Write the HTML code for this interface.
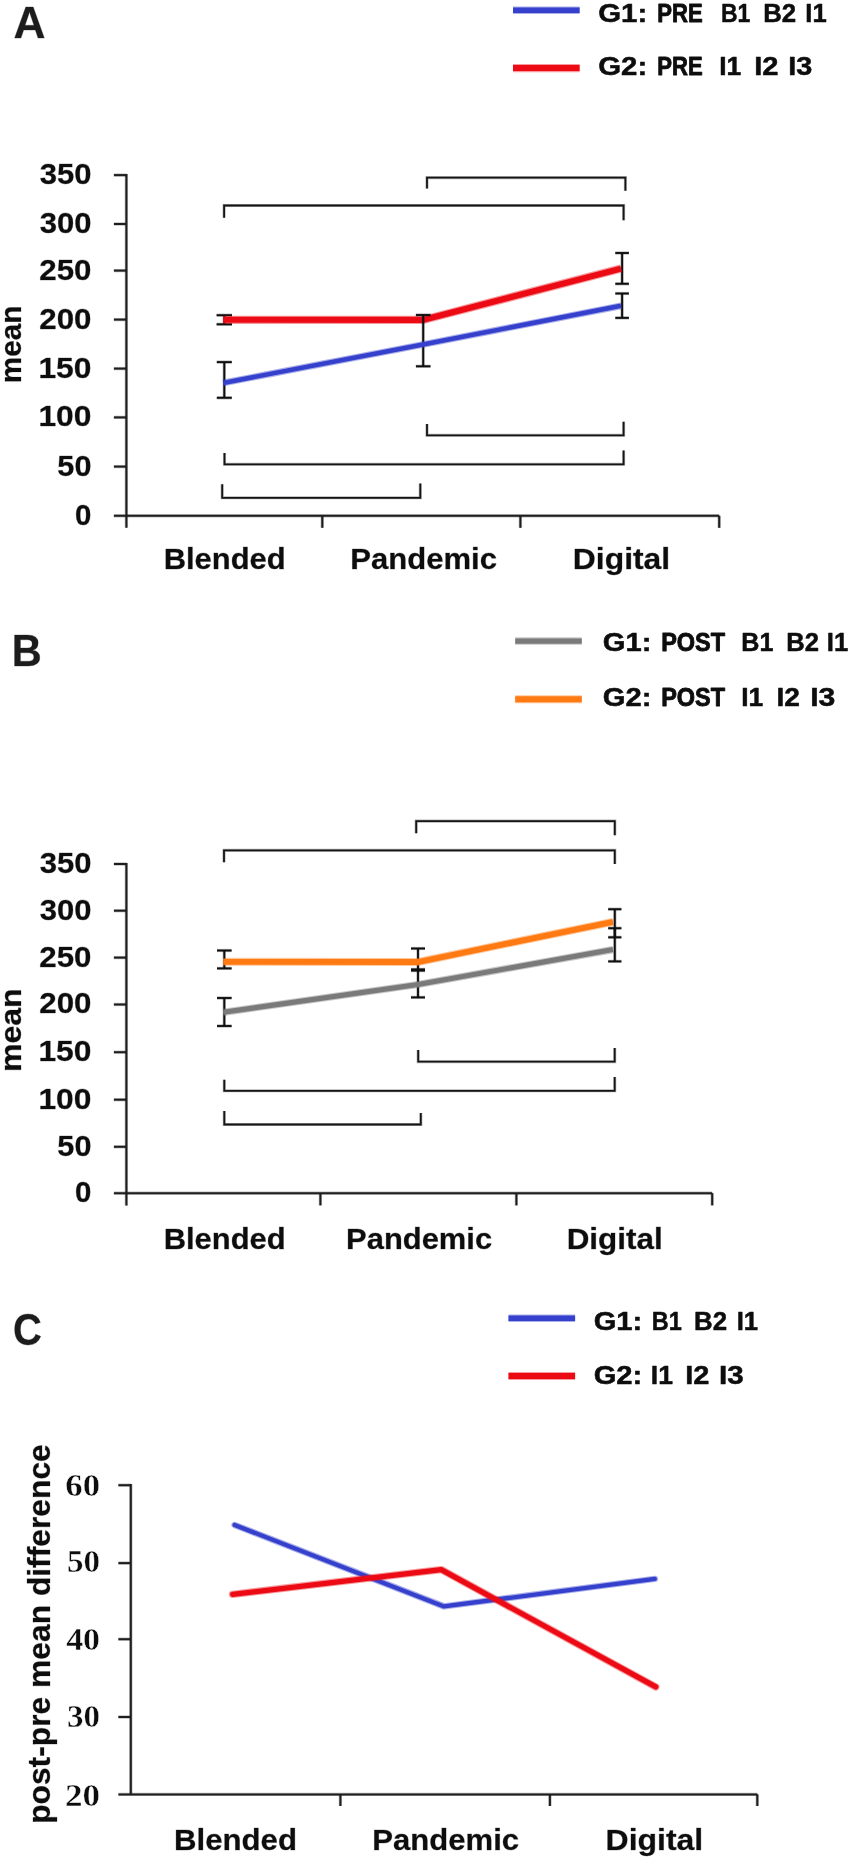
<!DOCTYPE html>
<html lang="en">
<head>
<meta charset="utf-8">
<title>Figure: group means across Blended, Pandemic and Digital terms</title>
<style>
html, body { margin: 0; padding: 0; background: #ffffff; }
body { width: 852px; height: 1861px; overflow: hidden; font-family: "Liberation Sans", sans-serif; }
svg { display: block; will-change: transform; }
text { white-space: pre; }
</style>
</head>
<body>
<svg width="852" height="1861" viewBox="0 0 852 1861">
<rect x="0" y="0" width="852" height="1861" fill="#ffffff"/>
<text x="13.59" y="38.10" font-size="43.5" font-family='"Liberation Sans", sans-serif' font-weight="bold" fill="#1c1c1c" textLength="32.01" lengthAdjust="spacingAndGlyphs" stroke="#1c1c1c" stroke-opacity="0.30" stroke-width="0.8" stroke-linejoin="round" paint-order="stroke">A</text>
<polyline points="513.0,10.2 579.6,10.2" fill="none" stroke="#3540cc" stroke-opacity="0.42" stroke-width="7.60" stroke-linejoin="miter" stroke-linecap="butt"/>
<polyline points="513.0,10.2 579.6,10.2" fill="none" stroke="#3540cc" stroke-width="5.40" stroke-linejoin="miter" stroke-linecap="butt"/>
<polyline points="513.0,68.1 579.6,68.1" fill="none" stroke="#ec0b14" stroke-opacity="0.42" stroke-width="8.20" stroke-linejoin="miter" stroke-linecap="butt"/>
<polyline points="513.0,68.1 579.6,68.1" fill="none" stroke="#ec0b14" stroke-width="6.00" stroke-linejoin="miter" stroke-linecap="butt"/>
<text x="598.28" y="22.00" font-size="26.200000000000003" font-family='"Liberation Sans", sans-serif' font-weight="bold" fill="#0d0d0d" textLength="48.95" lengthAdjust="spacingAndGlyphs" stroke="#0d0d0d" stroke-width="0.5" stroke-linejoin="round" paint-order="stroke">G1:</text>
<text x="657.26" y="22.00" font-size="25.900000000000002" font-family='"Liberation Sans", sans-serif' font-weight="bold" fill="#0d0d0d" textLength="45.34" lengthAdjust="spacingAndGlyphs" stroke="#0d0d0d" stroke-width="0.9" stroke-linejoin="round" paint-order="stroke">PRE</text>
<text x="720.90" y="22.00" font-size="26.200000000000003" font-family='"Liberation Sans", sans-serif' font-weight="bold" fill="#0d0d0d" textLength="29.40" lengthAdjust="spacingAndGlyphs" stroke="#0d0d0d" stroke-width="0.5" stroke-linejoin="round" paint-order="stroke">B1</text>
<text x="763.21" y="22.00" font-size="26.200000000000003" font-family='"Liberation Sans", sans-serif' font-weight="bold" fill="#0d0d0d" textLength="33.00" lengthAdjust="spacingAndGlyphs" stroke="#0d0d0d" stroke-width="0.5" stroke-linejoin="round" paint-order="stroke">B2</text>
<text x="805.32" y="22.00" font-size="26.200000000000003" font-family='"Liberation Sans", sans-serif' font-weight="bold" fill="#0d0d0d" textLength="21.37" lengthAdjust="spacingAndGlyphs" stroke="#0d0d0d" stroke-width="0.5" stroke-linejoin="round" paint-order="stroke">I1</text>
<text x="598.28" y="75.40" font-size="26.200000000000003" font-family='"Liberation Sans", sans-serif' font-weight="bold" fill="#0d0d0d" textLength="48.95" lengthAdjust="spacingAndGlyphs" stroke="#0d0d0d" stroke-width="0.5" stroke-linejoin="round" paint-order="stroke">G2:</text>
<text x="657.26" y="75.40" font-size="25.900000000000002" font-family='"Liberation Sans", sans-serif' font-weight="bold" fill="#0d0d0d" textLength="45.34" lengthAdjust="spacingAndGlyphs" stroke="#0d0d0d" stroke-width="0.9" stroke-linejoin="round" paint-order="stroke">PRE</text>
<text x="719.17" y="75.40" font-size="26.200000000000003" font-family='"Liberation Sans", sans-serif' font-weight="bold" fill="#0d0d0d" textLength="22.05" lengthAdjust="spacingAndGlyphs" stroke="#0d0d0d" stroke-width="0.5" stroke-linejoin="round" paint-order="stroke">I1</text>
<text x="754.29" y="75.40" font-size="26.200000000000003" font-family='"Liberation Sans", sans-serif' font-weight="bold" fill="#0d0d0d" textLength="24.27" lengthAdjust="spacingAndGlyphs" stroke="#0d0d0d" stroke-width="0.5" stroke-linejoin="round" paint-order="stroke">I2</text>
<text x="788.21" y="75.40" font-size="26.200000000000003" font-family='"Liberation Sans", sans-serif' font-weight="bold" fill="#0d0d0d" textLength="23.99" lengthAdjust="spacingAndGlyphs" stroke="#0d0d0d" stroke-width="0.5" stroke-linejoin="round" paint-order="stroke">I3</text>
<line x1="126.4" y1="174.0" x2="126.4" y2="527.8" stroke="#1e1e1e" stroke-opacity="0.32" stroke-width="3.30" stroke-linecap="butt"/>
<line x1="126.4" y1="174.0" x2="126.4" y2="527.8" stroke="#1e1e1e" stroke-width="2.0" stroke-linecap="butt"/>
<line x1="113.9" y1="515.8" x2="719.2" y2="515.8" stroke="#1e1e1e" stroke-opacity="0.32" stroke-width="3.30" stroke-linecap="butt"/>
<line x1="113.9" y1="515.8" x2="719.2" y2="515.8" stroke="#1e1e1e" stroke-width="2.0" stroke-linecap="butt"/>
<line x1="113.9" y1="175.1" x2="126.4" y2="175.1" stroke="#1e1e1e" stroke-opacity="0.32" stroke-width="3.30" stroke-linecap="butt"/>
<line x1="113.9" y1="175.1" x2="126.4" y2="175.1" stroke="#1e1e1e" stroke-width="2.0" stroke-linecap="butt"/>
<line x1="113.9" y1="224.0" x2="126.4" y2="224.0" stroke="#1e1e1e" stroke-opacity="0.32" stroke-width="3.30" stroke-linecap="butt"/>
<line x1="113.9" y1="224.0" x2="126.4" y2="224.0" stroke="#1e1e1e" stroke-width="2.0" stroke-linecap="butt"/>
<line x1="113.9" y1="270.6" x2="126.4" y2="270.6" stroke="#1e1e1e" stroke-opacity="0.32" stroke-width="3.30" stroke-linecap="butt"/>
<line x1="113.9" y1="270.6" x2="126.4" y2="270.6" stroke="#1e1e1e" stroke-width="2.0" stroke-linecap="butt"/>
<line x1="113.9" y1="319.6" x2="126.4" y2="319.6" stroke="#1e1e1e" stroke-opacity="0.32" stroke-width="3.30" stroke-linecap="butt"/>
<line x1="113.9" y1="319.6" x2="126.4" y2="319.6" stroke="#1e1e1e" stroke-width="2.0" stroke-linecap="butt"/>
<line x1="113.9" y1="368.6" x2="126.4" y2="368.6" stroke="#1e1e1e" stroke-opacity="0.32" stroke-width="3.30" stroke-linecap="butt"/>
<line x1="113.9" y1="368.6" x2="126.4" y2="368.6" stroke="#1e1e1e" stroke-width="2.0" stroke-linecap="butt"/>
<line x1="113.9" y1="417.4" x2="126.4" y2="417.4" stroke="#1e1e1e" stroke-opacity="0.32" stroke-width="3.30" stroke-linecap="butt"/>
<line x1="113.9" y1="417.4" x2="126.4" y2="417.4" stroke="#1e1e1e" stroke-width="2.0" stroke-linecap="butt"/>
<line x1="113.9" y1="466.6" x2="126.4" y2="466.6" stroke="#1e1e1e" stroke-opacity="0.32" stroke-width="3.30" stroke-linecap="butt"/>
<line x1="113.9" y1="466.6" x2="126.4" y2="466.6" stroke="#1e1e1e" stroke-width="2.0" stroke-linecap="butt"/>
<text x="39.70" y="184.00" font-size="28.6" font-family='"Liberation Sans", sans-serif' font-weight="bold" fill="#0d0d0d" textLength="51.77" lengthAdjust="spacingAndGlyphs" stroke="#0d0d0d" stroke-opacity="0.30" stroke-width="0.8" stroke-linejoin="round" paint-order="stroke">350</text>
<text x="39.70" y="232.90" font-size="28.6" font-family='"Liberation Sans", sans-serif' font-weight="bold" fill="#0d0d0d" textLength="51.77" lengthAdjust="spacingAndGlyphs" stroke="#0d0d0d" stroke-opacity="0.30" stroke-width="0.8" stroke-linejoin="round" paint-order="stroke">300</text>
<text x="39.31" y="279.50" font-size="28.6" font-family='"Liberation Sans", sans-serif' font-weight="bold" fill="#0d0d0d" textLength="52.18" lengthAdjust="spacingAndGlyphs" stroke="#0d0d0d" stroke-opacity="0.30" stroke-width="0.8" stroke-linejoin="round" paint-order="stroke">250</text>
<text x="39.31" y="328.50" font-size="28.6" font-family='"Liberation Sans", sans-serif' font-weight="bold" fill="#0d0d0d" textLength="52.18" lengthAdjust="spacingAndGlyphs" stroke="#0d0d0d" stroke-opacity="0.30" stroke-width="0.8" stroke-linejoin="round" paint-order="stroke">200</text>
<text x="38.41" y="377.50" font-size="28.6" font-family='"Liberation Sans", sans-serif' font-weight="bold" fill="#0d0d0d" textLength="53.09" lengthAdjust="spacingAndGlyphs" stroke="#0d0d0d" stroke-opacity="0.30" stroke-width="0.8" stroke-linejoin="round" paint-order="stroke">150</text>
<text x="38.41" y="426.30" font-size="28.6" font-family='"Liberation Sans", sans-serif' font-weight="bold" fill="#0d0d0d" textLength="53.09" lengthAdjust="spacingAndGlyphs" stroke="#0d0d0d" stroke-opacity="0.30" stroke-width="0.8" stroke-linejoin="round" paint-order="stroke">100</text>
<text x="57.38" y="475.50" font-size="28.6" font-family='"Liberation Sans", sans-serif' font-weight="bold" fill="#0d0d0d" textLength="34.12" lengthAdjust="spacingAndGlyphs" stroke="#0d0d0d" stroke-opacity="0.30" stroke-width="0.8" stroke-linejoin="round" paint-order="stroke">50</text>
<text x="75.02" y="524.70" font-size="28.6" font-family='"Liberation Sans", sans-serif' font-weight="bold" fill="#0d0d0d" textLength="16.39" lengthAdjust="spacingAndGlyphs" stroke="#0d0d0d" stroke-opacity="0.30" stroke-width="0.8" stroke-linejoin="round" paint-order="stroke">0</text>
<line x1="322.3" y1="515.8" x2="322.3" y2="527.8" stroke="#1e1e1e" stroke-opacity="0.32" stroke-width="3.30" stroke-linecap="butt"/>
<line x1="322.3" y1="515.8" x2="322.3" y2="527.8" stroke="#1e1e1e" stroke-width="2.0" stroke-linecap="butt"/>
<line x1="520.4" y1="515.8" x2="520.4" y2="527.8" stroke="#1e1e1e" stroke-opacity="0.32" stroke-width="3.30" stroke-linecap="butt"/>
<line x1="520.4" y1="515.8" x2="520.4" y2="527.8" stroke="#1e1e1e" stroke-width="2.0" stroke-linecap="butt"/>
<line x1="719.2" y1="515.8" x2="719.2" y2="527.8" stroke="#1e1e1e" stroke-opacity="0.32" stroke-width="3.30" stroke-linecap="butt"/>
<line x1="719.2" y1="515.8" x2="719.2" y2="527.8" stroke="#1e1e1e" stroke-width="2.0" stroke-linecap="butt"/>
<text x="20.70" y="383.13" font-size="30" font-family='"Liberation Sans", sans-serif' font-weight="bold" fill="#0d0d0d" textLength="77.40" lengthAdjust="spacingAndGlyphs" transform="rotate(-90 20.70 383.13)" stroke="#0d0d0d" stroke-opacity="0.30" stroke-width="0.8" stroke-linejoin="round" paint-order="stroke">mean</text>
<text x="163.71" y="569.40" font-size="30" font-family='"Liberation Sans", sans-serif' font-weight="bold" fill="#0d0d0d" textLength="121.89" lengthAdjust="spacingAndGlyphs" stroke="#0d0d0d" stroke-opacity="0.30" stroke-width="0.8" stroke-linejoin="round" paint-order="stroke">Blended</text>
<text x="350.20" y="569.40" font-size="30" font-family='"Liberation Sans", sans-serif' font-weight="bold" fill="#0d0d0d" textLength="146.81" lengthAdjust="spacingAndGlyphs" stroke="#0d0d0d" stroke-opacity="0.30" stroke-width="0.8" stroke-linejoin="round" paint-order="stroke">Pandemic</text>
<text x="572.85" y="569.40" font-size="30" font-family='"Liberation Sans", sans-serif' font-weight="bold" fill="#0d0d0d" textLength="97.30" lengthAdjust="spacingAndGlyphs" stroke="#0d0d0d" stroke-opacity="0.30" stroke-width="0.8" stroke-linejoin="round" paint-order="stroke">Digital</text>
<line x1="224.3" y1="315.2" x2="224.3" y2="324.3" stroke="#0f0f0f" stroke-opacity="0.32" stroke-width="3.20" stroke-linecap="butt"/>
<line x1="224.3" y1="315.2" x2="224.3" y2="324.3" stroke="#0f0f0f" stroke-width="1.9" stroke-linecap="butt"/>
<line x1="216.60000000000002" y1="315.2" x2="232.0" y2="315.2" stroke="#0f0f0f" stroke-opacity="0.32" stroke-width="3.20" stroke-linecap="butt"/>
<line x1="216.60000000000002" y1="315.2" x2="232.0" y2="315.2" stroke="#0f0f0f" stroke-width="1.9" stroke-linecap="butt"/>
<line x1="216.60000000000002" y1="324.3" x2="232.0" y2="324.3" stroke="#0f0f0f" stroke-opacity="0.32" stroke-width="3.20" stroke-linecap="butt"/>
<line x1="216.60000000000002" y1="324.3" x2="232.0" y2="324.3" stroke="#0f0f0f" stroke-width="1.9" stroke-linecap="butt"/>
<line x1="622.1" y1="253.0" x2="622.1" y2="283.8" stroke="#0f0f0f" stroke-opacity="0.32" stroke-width="3.20" stroke-linecap="butt"/>
<line x1="622.1" y1="253.0" x2="622.1" y2="283.8" stroke="#0f0f0f" stroke-width="1.9" stroke-linecap="butt"/>
<line x1="615.3000000000001" y1="253.0" x2="628.9" y2="253.0" stroke="#0f0f0f" stroke-opacity="0.32" stroke-width="3.20" stroke-linecap="butt"/>
<line x1="615.3000000000001" y1="253.0" x2="628.9" y2="253.0" stroke="#0f0f0f" stroke-width="1.9" stroke-linecap="butt"/>
<line x1="615.3000000000001" y1="283.8" x2="628.9" y2="283.8" stroke="#0f0f0f" stroke-opacity="0.32" stroke-width="3.20" stroke-linecap="butt"/>
<line x1="615.3000000000001" y1="283.8" x2="628.9" y2="283.8" stroke="#0f0f0f" stroke-width="1.9" stroke-linecap="butt"/>
<polyline points="223.2,319.8 423,319.9 621,268.6" fill="none" stroke="#ec0b14" stroke-opacity="0.42" stroke-width="8.30" stroke-linejoin="miter" stroke-linecap="butt"/>
<polyline points="223.2,319.8 423,319.9 621,268.6" fill="none" stroke="#ec0b14" stroke-width="6.10" stroke-linejoin="miter" stroke-linecap="butt"/>
<line x1="224.3" y1="362.1" x2="224.3" y2="397.8" stroke="#0f0f0f" stroke-opacity="0.32" stroke-width="3.20" stroke-linecap="butt"/>
<line x1="224.3" y1="362.1" x2="224.3" y2="397.8" stroke="#0f0f0f" stroke-width="1.9" stroke-linecap="butt"/>
<line x1="216.8" y1="362.1" x2="231.8" y2="362.1" stroke="#0f0f0f" stroke-opacity="0.32" stroke-width="3.20" stroke-linecap="butt"/>
<line x1="216.8" y1="362.1" x2="231.8" y2="362.1" stroke="#0f0f0f" stroke-width="1.9" stroke-linecap="butt"/>
<line x1="216.8" y1="397.8" x2="231.8" y2="397.8" stroke="#0f0f0f" stroke-opacity="0.32" stroke-width="3.20" stroke-linecap="butt"/>
<line x1="216.8" y1="397.8" x2="231.8" y2="397.8" stroke="#0f0f0f" stroke-width="1.9" stroke-linecap="butt"/>
<line x1="423.2" y1="315.0" x2="423.2" y2="366.3" stroke="#0f0f0f" stroke-opacity="0.32" stroke-width="3.20" stroke-linecap="butt"/>
<line x1="423.2" y1="315.0" x2="423.2" y2="366.3" stroke="#0f0f0f" stroke-width="1.9" stroke-linecap="butt"/>
<line x1="415.9" y1="315.0" x2="430.5" y2="315.0" stroke="#0f0f0f" stroke-opacity="0.32" stroke-width="3.20" stroke-linecap="butt"/>
<line x1="415.9" y1="315.0" x2="430.5" y2="315.0" stroke="#0f0f0f" stroke-width="1.9" stroke-linecap="butt"/>
<line x1="415.9" y1="366.3" x2="430.5" y2="366.3" stroke="#0f0f0f" stroke-opacity="0.32" stroke-width="3.20" stroke-linecap="butt"/>
<line x1="415.9" y1="366.3" x2="430.5" y2="366.3" stroke="#0f0f0f" stroke-width="1.9" stroke-linecap="butt"/>
<line x1="622.1" y1="293.5" x2="622.1" y2="317.9" stroke="#0f0f0f" stroke-opacity="0.32" stroke-width="3.20" stroke-linecap="butt"/>
<line x1="622.1" y1="293.5" x2="622.1" y2="317.9" stroke="#0f0f0f" stroke-width="1.9" stroke-linecap="butt"/>
<line x1="615.3000000000001" y1="293.5" x2="628.9" y2="293.5" stroke="#0f0f0f" stroke-opacity="0.32" stroke-width="3.20" stroke-linecap="butt"/>
<line x1="615.3000000000001" y1="293.5" x2="628.9" y2="293.5" stroke="#0f0f0f" stroke-width="1.9" stroke-linecap="butt"/>
<line x1="615.3000000000001" y1="317.9" x2="628.9" y2="317.9" stroke="#0f0f0f" stroke-opacity="0.32" stroke-width="3.20" stroke-linecap="butt"/>
<line x1="615.3000000000001" y1="317.9" x2="628.9" y2="317.9" stroke="#0f0f0f" stroke-width="1.9" stroke-linecap="butt"/>
<polyline points="223.2,382.9 423,344.5 621,305.8" fill="none" stroke="#3540cc" stroke-opacity="0.42" stroke-width="6.80" stroke-linejoin="miter" stroke-linecap="butt"/>
<polyline points="223.2,382.9 423,344.5 621,305.8" fill="none" stroke="#3540cc" stroke-width="4.60" stroke-linejoin="miter" stroke-linecap="butt"/>
<polyline points="427,188.5 427,177.6 625.4,177.6 625.4,190.8" fill="none" stroke="#151515" stroke-opacity="0.32" stroke-width="3.10" stroke-linejoin="miter" stroke-linecap="butt"/>
<polyline points="427,188.5 427,177.6 625.4,177.6 625.4,190.8" fill="none" stroke="#151515" stroke-width="1.8" stroke-linejoin="miter" stroke-linecap="butt"/>
<polyline points="224.1,217.8 224.1,205.5 623.6,205.5 623.6,220.2" fill="none" stroke="#151515" stroke-opacity="0.32" stroke-width="3.10" stroke-linejoin="miter" stroke-linecap="butt"/>
<polyline points="224.1,217.8 224.1,205.5 623.6,205.5 623.6,220.2" fill="none" stroke="#151515" stroke-width="1.8" stroke-linejoin="miter" stroke-linecap="butt"/>
<polyline points="427,424 427,435.3 623.6,435.3 623.6,421.7" fill="none" stroke="#151515" stroke-opacity="0.32" stroke-width="3.10" stroke-linejoin="miter" stroke-linecap="butt"/>
<polyline points="427,424 427,435.3 623.6,435.3 623.6,421.7" fill="none" stroke="#151515" stroke-width="1.8" stroke-linejoin="miter" stroke-linecap="butt"/>
<polyline points="224.5,453 224.5,464.3 623.6,464.3 623.6,450.4" fill="none" stroke="#151515" stroke-opacity="0.32" stroke-width="3.10" stroke-linejoin="miter" stroke-linecap="butt"/>
<polyline points="224.5,453 224.5,464.3 623.6,464.3 623.6,450.4" fill="none" stroke="#151515" stroke-width="1.8" stroke-linejoin="miter" stroke-linecap="butt"/>
<polyline points="222.2,484.2 222.2,497.8 420.3,497.8 420.3,483.6" fill="none" stroke="#151515" stroke-opacity="0.32" stroke-width="3.10" stroke-linejoin="miter" stroke-linecap="butt"/>
<polyline points="222.2,484.2 222.2,497.8 420.3,497.8 420.3,483.6" fill="none" stroke="#151515" stroke-width="1.8" stroke-linejoin="miter" stroke-linecap="butt"/>
<text x="11.80" y="665.80" font-size="43.5" font-family='"Liberation Sans", sans-serif' font-weight="bold" fill="#1c1c1c" textLength="29.95" lengthAdjust="spacingAndGlyphs" stroke="#1c1c1c" stroke-opacity="0.30" stroke-width="0.8" stroke-linejoin="round" paint-order="stroke">B</text>
<polyline points="515.2,641.1 581.8,641.1" fill="none" stroke="#7a7a7a" stroke-opacity="0.42" stroke-width="7.50" stroke-linejoin="miter" stroke-linecap="butt"/>
<polyline points="515.2,641.1 581.8,641.1" fill="none" stroke="#7a7a7a" stroke-width="5.30" stroke-linejoin="miter" stroke-linecap="butt"/>
<polyline points="515.2,699.2 581.8,699.2" fill="none" stroke="#ff7a12" stroke-opacity="0.42" stroke-width="8.10" stroke-linejoin="miter" stroke-linecap="butt"/>
<polyline points="515.2,699.2 581.8,699.2" fill="none" stroke="#ff7a12" stroke-width="5.90" stroke-linejoin="miter" stroke-linecap="butt"/>
<text x="602.88" y="650.90" font-size="26.200000000000003" font-family='"Liberation Sans", sans-serif' font-weight="bold" fill="#0d0d0d" textLength="48.62" lengthAdjust="spacingAndGlyphs" stroke="#0d0d0d" stroke-width="0.5" stroke-linejoin="round" paint-order="stroke">G1:</text>
<text x="661.17" y="650.90" font-size="25.900000000000002" font-family='"Liberation Sans", sans-serif' font-weight="bold" fill="#0d0d0d" textLength="63.92" lengthAdjust="spacingAndGlyphs" stroke="#0d0d0d" stroke-width="0.9" stroke-linejoin="round" paint-order="stroke">POST</text>
<text x="741.35" y="650.90" font-size="26.200000000000003" font-family='"Liberation Sans", sans-serif' font-weight="bold" fill="#0d0d0d" textLength="32.11" lengthAdjust="spacingAndGlyphs" stroke="#0d0d0d" stroke-width="0.5" stroke-linejoin="round" paint-order="stroke">B1</text>
<text x="786.22" y="650.90" font-size="26.200000000000003" font-family='"Liberation Sans", sans-serif' font-weight="bold" fill="#0d0d0d" textLength="32.78" lengthAdjust="spacingAndGlyphs" stroke="#0d0d0d" stroke-width="0.5" stroke-linejoin="round" paint-order="stroke">B2</text>
<text x="826.82" y="650.90" font-size="26.200000000000003" font-family='"Liberation Sans", sans-serif' font-weight="bold" fill="#0d0d0d" textLength="21.37" lengthAdjust="spacingAndGlyphs" stroke="#0d0d0d" stroke-width="0.5" stroke-linejoin="round" paint-order="stroke">I1</text>
<text x="602.88" y="706.20" font-size="26.200000000000003" font-family='"Liberation Sans", sans-serif' font-weight="bold" fill="#0d0d0d" textLength="48.62" lengthAdjust="spacingAndGlyphs" stroke="#0d0d0d" stroke-width="0.5" stroke-linejoin="round" paint-order="stroke">G2:</text>
<text x="661.17" y="706.20" font-size="25.900000000000002" font-family='"Liberation Sans", sans-serif' font-weight="bold" fill="#0d0d0d" textLength="63.92" lengthAdjust="spacingAndGlyphs" stroke="#0d0d0d" stroke-width="0.9" stroke-linejoin="round" paint-order="stroke">POST</text>
<text x="741.27" y="706.20" font-size="26.200000000000003" font-family='"Liberation Sans", sans-serif' font-weight="bold" fill="#0d0d0d" textLength="22.05" lengthAdjust="spacingAndGlyphs" stroke="#0d0d0d" stroke-width="0.5" stroke-linejoin="round" paint-order="stroke">I1</text>
<text x="776.55" y="706.20" font-size="26.200000000000003" font-family='"Liberation Sans", sans-serif' font-weight="bold" fill="#0d0d0d" textLength="23.47" lengthAdjust="spacingAndGlyphs" stroke="#0d0d0d" stroke-width="0.5" stroke-linejoin="round" paint-order="stroke">I2</text>
<text x="810.22" y="706.20" font-size="26.200000000000003" font-family='"Liberation Sans", sans-serif' font-weight="bold" fill="#0d0d0d" textLength="25.13" lengthAdjust="spacingAndGlyphs" stroke="#0d0d0d" stroke-width="0.5" stroke-linejoin="round" paint-order="stroke">I3</text>
<line x1="126.4" y1="862.9" x2="126.4" y2="1205.4" stroke="#1e1e1e" stroke-opacity="0.32" stroke-width="3.30" stroke-linecap="butt"/>
<line x1="126.4" y1="862.9" x2="126.4" y2="1205.4" stroke="#1e1e1e" stroke-width="2.0" stroke-linecap="butt"/>
<line x1="113.9" y1="1193.2" x2="712.2" y2="1193.2" stroke="#1e1e1e" stroke-opacity="0.32" stroke-width="3.30" stroke-linecap="butt"/>
<line x1="113.9" y1="1193.2" x2="712.2" y2="1193.2" stroke="#1e1e1e" stroke-width="2.0" stroke-linecap="butt"/>
<line x1="113.9" y1="864.0" x2="126.4" y2="864.0" stroke="#1e1e1e" stroke-opacity="0.32" stroke-width="3.30" stroke-linecap="butt"/>
<line x1="113.9" y1="864.0" x2="126.4" y2="864.0" stroke="#1e1e1e" stroke-width="2.0" stroke-linecap="butt"/>
<line x1="113.9" y1="910.7" x2="126.4" y2="910.7" stroke="#1e1e1e" stroke-opacity="0.32" stroke-width="3.30" stroke-linecap="butt"/>
<line x1="113.9" y1="910.7" x2="126.4" y2="910.7" stroke="#1e1e1e" stroke-width="2.0" stroke-linecap="butt"/>
<line x1="113.9" y1="957.6" x2="126.4" y2="957.6" stroke="#1e1e1e" stroke-opacity="0.32" stroke-width="3.30" stroke-linecap="butt"/>
<line x1="113.9" y1="957.6" x2="126.4" y2="957.6" stroke="#1e1e1e" stroke-width="2.0" stroke-linecap="butt"/>
<line x1="113.9" y1="1004.5" x2="126.4" y2="1004.5" stroke="#1e1e1e" stroke-opacity="0.32" stroke-width="3.30" stroke-linecap="butt"/>
<line x1="113.9" y1="1004.5" x2="126.4" y2="1004.5" stroke="#1e1e1e" stroke-width="2.0" stroke-linecap="butt"/>
<line x1="113.9" y1="1052.2" x2="126.4" y2="1052.2" stroke="#1e1e1e" stroke-opacity="0.32" stroke-width="3.30" stroke-linecap="butt"/>
<line x1="113.9" y1="1052.2" x2="126.4" y2="1052.2" stroke="#1e1e1e" stroke-width="2.0" stroke-linecap="butt"/>
<line x1="113.9" y1="1099.7" x2="126.4" y2="1099.7" stroke="#1e1e1e" stroke-opacity="0.32" stroke-width="3.30" stroke-linecap="butt"/>
<line x1="113.9" y1="1099.7" x2="126.4" y2="1099.7" stroke="#1e1e1e" stroke-width="2.0" stroke-linecap="butt"/>
<line x1="113.9" y1="1146.8" x2="126.4" y2="1146.8" stroke="#1e1e1e" stroke-opacity="0.32" stroke-width="3.30" stroke-linecap="butt"/>
<line x1="113.9" y1="1146.8" x2="126.4" y2="1146.8" stroke="#1e1e1e" stroke-width="2.0" stroke-linecap="butt"/>
<text x="39.70" y="872.90" font-size="28.6" font-family='"Liberation Sans", sans-serif' font-weight="bold" fill="#0d0d0d" textLength="51.77" lengthAdjust="spacingAndGlyphs" stroke="#0d0d0d" stroke-opacity="0.30" stroke-width="0.8" stroke-linejoin="round" paint-order="stroke">350</text>
<text x="39.70" y="919.60" font-size="28.6" font-family='"Liberation Sans", sans-serif' font-weight="bold" fill="#0d0d0d" textLength="51.77" lengthAdjust="spacingAndGlyphs" stroke="#0d0d0d" stroke-opacity="0.30" stroke-width="0.8" stroke-linejoin="round" paint-order="stroke">300</text>
<text x="39.31" y="966.50" font-size="28.6" font-family='"Liberation Sans", sans-serif' font-weight="bold" fill="#0d0d0d" textLength="52.18" lengthAdjust="spacingAndGlyphs" stroke="#0d0d0d" stroke-opacity="0.30" stroke-width="0.8" stroke-linejoin="round" paint-order="stroke">250</text>
<text x="39.31" y="1013.40" font-size="28.6" font-family='"Liberation Sans", sans-serif' font-weight="bold" fill="#0d0d0d" textLength="52.18" lengthAdjust="spacingAndGlyphs" stroke="#0d0d0d" stroke-opacity="0.30" stroke-width="0.8" stroke-linejoin="round" paint-order="stroke">200</text>
<text x="38.41" y="1061.10" font-size="28.6" font-family='"Liberation Sans", sans-serif' font-weight="bold" fill="#0d0d0d" textLength="53.09" lengthAdjust="spacingAndGlyphs" stroke="#0d0d0d" stroke-opacity="0.30" stroke-width="0.8" stroke-linejoin="round" paint-order="stroke">150</text>
<text x="38.41" y="1108.60" font-size="28.6" font-family='"Liberation Sans", sans-serif' font-weight="bold" fill="#0d0d0d" textLength="53.09" lengthAdjust="spacingAndGlyphs" stroke="#0d0d0d" stroke-opacity="0.30" stroke-width="0.8" stroke-linejoin="round" paint-order="stroke">100</text>
<text x="57.38" y="1155.70" font-size="28.6" font-family='"Liberation Sans", sans-serif' font-weight="bold" fill="#0d0d0d" textLength="34.12" lengthAdjust="spacingAndGlyphs" stroke="#0d0d0d" stroke-opacity="0.30" stroke-width="0.8" stroke-linejoin="round" paint-order="stroke">50</text>
<text x="75.02" y="1202.10" font-size="28.6" font-family='"Liberation Sans", sans-serif' font-weight="bold" fill="#0d0d0d" textLength="16.39" lengthAdjust="spacingAndGlyphs" stroke="#0d0d0d" stroke-opacity="0.30" stroke-width="0.8" stroke-linejoin="round" paint-order="stroke">0</text>
<line x1="320.4" y1="1193.2" x2="320.4" y2="1205.4" stroke="#1e1e1e" stroke-opacity="0.32" stroke-width="3.30" stroke-linecap="butt"/>
<line x1="320.4" y1="1193.2" x2="320.4" y2="1205.4" stroke="#1e1e1e" stroke-width="2.0" stroke-linecap="butt"/>
<line x1="516.4" y1="1193.2" x2="516.4" y2="1205.4" stroke="#1e1e1e" stroke-opacity="0.32" stroke-width="3.30" stroke-linecap="butt"/>
<line x1="516.4" y1="1193.2" x2="516.4" y2="1205.4" stroke="#1e1e1e" stroke-width="2.0" stroke-linecap="butt"/>
<line x1="712.2" y1="1193.2" x2="712.2" y2="1205.4" stroke="#1e1e1e" stroke-opacity="0.32" stroke-width="3.30" stroke-linecap="butt"/>
<line x1="712.2" y1="1193.2" x2="712.2" y2="1205.4" stroke="#1e1e1e" stroke-width="2.0" stroke-linecap="butt"/>
<text x="20.70" y="1072.08" font-size="30" font-family='"Liberation Sans", sans-serif' font-weight="bold" fill="#0d0d0d" textLength="83.70" lengthAdjust="spacingAndGlyphs" transform="rotate(-90 20.70 1072.08)" stroke="#0d0d0d" stroke-opacity="0.30" stroke-width="0.8" stroke-linejoin="round" paint-order="stroke">mean</text>
<text x="163.71" y="1249.40" font-size="30" font-family='"Liberation Sans", sans-serif' font-weight="bold" fill="#0d0d0d" textLength="121.89" lengthAdjust="spacingAndGlyphs" stroke="#0d0d0d" stroke-opacity="0.30" stroke-width="0.8" stroke-linejoin="round" paint-order="stroke">Blended</text>
<text x="346.11" y="1249.40" font-size="30" font-family='"Liberation Sans", sans-serif' font-weight="bold" fill="#0d0d0d" textLength="145.99" lengthAdjust="spacingAndGlyphs" stroke="#0d0d0d" stroke-opacity="0.30" stroke-width="0.8" stroke-linejoin="round" paint-order="stroke">Pandemic</text>
<text x="566.68" y="1249.40" font-size="30" font-family='"Liberation Sans", sans-serif' font-weight="bold" fill="#0d0d0d" textLength="96.05" lengthAdjust="spacingAndGlyphs" stroke="#0d0d0d" stroke-opacity="0.30" stroke-width="0.8" stroke-linejoin="round" paint-order="stroke">Digital</text>
<line x1="224.3" y1="950.5" x2="224.3" y2="968.4" stroke="#0f0f0f" stroke-opacity="0.32" stroke-width="3.20" stroke-linecap="butt"/>
<line x1="224.3" y1="950.5" x2="224.3" y2="968.4" stroke="#0f0f0f" stroke-width="1.9" stroke-linecap="butt"/>
<line x1="217.0" y1="950.5" x2="231.60000000000002" y2="950.5" stroke="#0f0f0f" stroke-opacity="0.32" stroke-width="3.20" stroke-linecap="butt"/>
<line x1="217.0" y1="950.5" x2="231.60000000000002" y2="950.5" stroke="#0f0f0f" stroke-width="1.9" stroke-linecap="butt"/>
<line x1="217.0" y1="968.4" x2="231.60000000000002" y2="968.4" stroke="#0f0f0f" stroke-opacity="0.32" stroke-width="3.20" stroke-linecap="butt"/>
<line x1="217.0" y1="968.4" x2="231.60000000000002" y2="968.4" stroke="#0f0f0f" stroke-width="1.9" stroke-linecap="butt"/>
<line x1="418.0" y1="948.5" x2="418.0" y2="969.4" stroke="#0f0f0f" stroke-opacity="0.32" stroke-width="3.20" stroke-linecap="butt"/>
<line x1="418.0" y1="948.5" x2="418.0" y2="969.4" stroke="#0f0f0f" stroke-width="1.9" stroke-linecap="butt"/>
<line x1="411.0" y1="948.5" x2="425.0" y2="948.5" stroke="#0f0f0f" stroke-opacity="0.32" stroke-width="3.20" stroke-linecap="butt"/>
<line x1="411.0" y1="948.5" x2="425.0" y2="948.5" stroke="#0f0f0f" stroke-width="1.9" stroke-linecap="butt"/>
<line x1="411.0" y1="969.4" x2="425.0" y2="969.4" stroke="#0f0f0f" stroke-opacity="0.32" stroke-width="3.20" stroke-linecap="butt"/>
<line x1="411.0" y1="969.4" x2="425.0" y2="969.4" stroke="#0f0f0f" stroke-width="1.9" stroke-linecap="butt"/>
<line x1="614.8" y1="909.2" x2="614.8" y2="937.3" stroke="#0f0f0f" stroke-opacity="0.32" stroke-width="3.20" stroke-linecap="butt"/>
<line x1="614.8" y1="909.2" x2="614.8" y2="937.3" stroke="#0f0f0f" stroke-width="1.9" stroke-linecap="butt"/>
<line x1="608.1999999999999" y1="909.2" x2="621.4" y2="909.2" stroke="#0f0f0f" stroke-opacity="0.32" stroke-width="3.20" stroke-linecap="butt"/>
<line x1="608.1999999999999" y1="909.2" x2="621.4" y2="909.2" stroke="#0f0f0f" stroke-width="1.9" stroke-linecap="butt"/>
<line x1="608.1999999999999" y1="937.3" x2="621.4" y2="937.3" stroke="#0f0f0f" stroke-opacity="0.32" stroke-width="3.20" stroke-linecap="butt"/>
<line x1="608.1999999999999" y1="937.3" x2="621.4" y2="937.3" stroke="#0f0f0f" stroke-width="1.9" stroke-linecap="butt"/>
<polyline points="223.2,961.8 418,962.0 613,921.8" fill="none" stroke="#ff7a12" stroke-opacity="0.42" stroke-width="8.00" stroke-linejoin="miter" stroke-linecap="butt"/>
<polyline points="223.2,961.8 418,962.0 613,921.8" fill="none" stroke="#ff7a12" stroke-width="5.80" stroke-linejoin="miter" stroke-linecap="butt"/>
<line x1="224.3" y1="998.0" x2="224.3" y2="1026.0" stroke="#0f0f0f" stroke-opacity="0.32" stroke-width="3.20" stroke-linecap="butt"/>
<line x1="224.3" y1="998.0" x2="224.3" y2="1026.0" stroke="#0f0f0f" stroke-width="1.9" stroke-linecap="butt"/>
<line x1="217.0" y1="998.0" x2="231.60000000000002" y2="998.0" stroke="#0f0f0f" stroke-opacity="0.32" stroke-width="3.20" stroke-linecap="butt"/>
<line x1="217.0" y1="998.0" x2="231.60000000000002" y2="998.0" stroke="#0f0f0f" stroke-width="1.9" stroke-linecap="butt"/>
<line x1="217.0" y1="1026.0" x2="231.60000000000002" y2="1026.0" stroke="#0f0f0f" stroke-opacity="0.32" stroke-width="3.20" stroke-linecap="butt"/>
<line x1="217.0" y1="1026.0" x2="231.60000000000002" y2="1026.0" stroke="#0f0f0f" stroke-width="1.9" stroke-linecap="butt"/>
<line x1="418.0" y1="970.6" x2="418.0" y2="997.4" stroke="#0f0f0f" stroke-opacity="0.32" stroke-width="3.20" stroke-linecap="butt"/>
<line x1="418.0" y1="970.6" x2="418.0" y2="997.4" stroke="#0f0f0f" stroke-width="1.9" stroke-linecap="butt"/>
<line x1="411.0" y1="970.6" x2="425.0" y2="970.6" stroke="#0f0f0f" stroke-opacity="0.32" stroke-width="3.20" stroke-linecap="butt"/>
<line x1="411.0" y1="970.6" x2="425.0" y2="970.6" stroke="#0f0f0f" stroke-width="1.9" stroke-linecap="butt"/>
<line x1="411.0" y1="997.4" x2="425.0" y2="997.4" stroke="#0f0f0f" stroke-opacity="0.32" stroke-width="3.20" stroke-linecap="butt"/>
<line x1="411.0" y1="997.4" x2="425.0" y2="997.4" stroke="#0f0f0f" stroke-width="1.9" stroke-linecap="butt"/>
<line x1="614.8" y1="928.2" x2="614.8" y2="961.4" stroke="#0f0f0f" stroke-opacity="0.32" stroke-width="3.20" stroke-linecap="butt"/>
<line x1="614.8" y1="928.2" x2="614.8" y2="961.4" stroke="#0f0f0f" stroke-width="1.9" stroke-linecap="butt"/>
<line x1="608.1999999999999" y1="928.2" x2="621.4" y2="928.2" stroke="#0f0f0f" stroke-opacity="0.32" stroke-width="3.20" stroke-linecap="butt"/>
<line x1="608.1999999999999" y1="928.2" x2="621.4" y2="928.2" stroke="#0f0f0f" stroke-width="1.9" stroke-linecap="butt"/>
<line x1="608.1999999999999" y1="961.4" x2="621.4" y2="961.4" stroke="#0f0f0f" stroke-opacity="0.32" stroke-width="3.20" stroke-linecap="butt"/>
<line x1="608.1999999999999" y1="961.4" x2="621.4" y2="961.4" stroke="#0f0f0f" stroke-width="1.9" stroke-linecap="butt"/>
<polyline points="223.2,1012.3 418,984.5 613,949.6" fill="none" stroke="#7a7a7a" stroke-opacity="0.42" stroke-width="7.30" stroke-linejoin="miter" stroke-linecap="butt"/>
<polyline points="223.2,1012.3 418,984.5 613,949.6" fill="none" stroke="#7a7a7a" stroke-width="5.10" stroke-linejoin="miter" stroke-linecap="butt"/>
<polyline points="416.2,833.2 416.2,821.1 614.8,821.1 614.8,835.2" fill="none" stroke="#151515" stroke-opacity="0.32" stroke-width="3.10" stroke-linejoin="miter" stroke-linecap="butt"/>
<polyline points="416.2,833.2 416.2,821.1 614.8,821.1 614.8,835.2" fill="none" stroke="#151515" stroke-width="1.8" stroke-linejoin="miter" stroke-linecap="butt"/>
<polyline points="224.0,862.2 224.0,850.4 614.8,850.4 614.8,864.0" fill="none" stroke="#151515" stroke-opacity="0.32" stroke-width="3.10" stroke-linejoin="miter" stroke-linecap="butt"/>
<polyline points="224.0,862.2 224.0,850.4 614.8,850.4 614.8,864.0" fill="none" stroke="#151515" stroke-width="1.8" stroke-linejoin="miter" stroke-linecap="butt"/>
<polyline points="418.2,1050.1 418.2,1061.7 614.7,1061.7 614.7,1048.0" fill="none" stroke="#151515" stroke-opacity="0.32" stroke-width="3.10" stroke-linejoin="miter" stroke-linecap="butt"/>
<polyline points="418.2,1050.1 418.2,1061.7 614.7,1061.7 614.7,1048.0" fill="none" stroke="#151515" stroke-width="1.8" stroke-linejoin="miter" stroke-linecap="butt"/>
<polyline points="224.3,1079.7 224.3,1090.8 614.7,1090.8 614.7,1077.0" fill="none" stroke="#151515" stroke-opacity="0.32" stroke-width="3.10" stroke-linejoin="miter" stroke-linecap="butt"/>
<polyline points="224.3,1079.7 224.3,1090.8 614.7,1090.8 614.7,1077.0" fill="none" stroke="#151515" stroke-width="1.8" stroke-linejoin="miter" stroke-linecap="butt"/>
<polyline points="224.3,1110.9 224.3,1124.5 420.8,1124.5 420.8,1113.0" fill="none" stroke="#151515" stroke-opacity="0.32" stroke-width="3.10" stroke-linejoin="miter" stroke-linecap="butt"/>
<polyline points="224.3,1110.9 224.3,1124.5 420.8,1124.5 420.8,1113.0" fill="none" stroke="#151515" stroke-width="1.8" stroke-linejoin="miter" stroke-linecap="butt"/>
<text x="13.00" y="1345.20" font-size="43.5" font-family='"Liberation Sans", sans-serif' font-weight="bold" fill="#1c1c1c" textLength="28.89" lengthAdjust="spacingAndGlyphs" stroke="#1c1c1c" stroke-opacity="0.30" stroke-width="0.8" stroke-linejoin="round" paint-order="stroke">C</text>
<polyline points="508.5,1318.2 575.1,1318.2" fill="none" stroke="#3540cc" stroke-opacity="0.42" stroke-width="7.60" stroke-linejoin="miter" stroke-linecap="butt"/>
<polyline points="508.5,1318.2 575.1,1318.2" fill="none" stroke="#3540cc" stroke-width="5.40" stroke-linejoin="miter" stroke-linecap="butt"/>
<polyline points="508.5,1376.0 575.1,1376.0" fill="none" stroke="#ec0b14" stroke-opacity="0.42" stroke-width="8.10" stroke-linejoin="miter" stroke-linecap="butt"/>
<polyline points="508.5,1376.0 575.1,1376.0" fill="none" stroke="#ec0b14" stroke-width="5.90" stroke-linejoin="miter" stroke-linecap="butt"/>
<text x="593.68" y="1329.80" font-size="26.200000000000003" font-family='"Liberation Sans", sans-serif' font-weight="bold" fill="#0d0d0d" textLength="48.62" lengthAdjust="spacingAndGlyphs" stroke="#0d0d0d" stroke-width="0.5" stroke-linejoin="round" paint-order="stroke">G1:</text>
<text x="651.66" y="1329.80" font-size="26.200000000000003" font-family='"Liberation Sans", sans-serif' font-weight="bold" fill="#0d0d0d" textLength="30.05" lengthAdjust="spacingAndGlyphs" stroke="#0d0d0d" stroke-width="0.5" stroke-linejoin="round" paint-order="stroke">B1</text>
<text x="694.01" y="1329.80" font-size="26.200000000000003" font-family='"Liberation Sans", sans-serif' font-weight="bold" fill="#0d0d0d" textLength="33.00" lengthAdjust="spacingAndGlyphs" stroke="#0d0d0d" stroke-width="0.5" stroke-linejoin="round" paint-order="stroke">B2</text>
<text x="736.72" y="1329.80" font-size="26.200000000000003" font-family='"Liberation Sans", sans-serif' font-weight="bold" fill="#0d0d0d" textLength="21.37" lengthAdjust="spacingAndGlyphs" stroke="#0d0d0d" stroke-width="0.5" stroke-linejoin="round" paint-order="stroke">I1</text>
<text x="593.68" y="1383.60" font-size="26.200000000000003" font-family='"Liberation Sans", sans-serif' font-weight="bold" fill="#0d0d0d" textLength="48.62" lengthAdjust="spacingAndGlyphs" stroke="#0d0d0d" stroke-width="0.5" stroke-linejoin="round" paint-order="stroke">G2:</text>
<text x="650.87" y="1383.60" font-size="26.200000000000003" font-family='"Liberation Sans", sans-serif' font-weight="bold" fill="#0d0d0d" textLength="22.05" lengthAdjust="spacingAndGlyphs" stroke="#0d0d0d" stroke-width="0.5" stroke-linejoin="round" paint-order="stroke">I1</text>
<text x="685.19" y="1383.60" font-size="26.200000000000003" font-family='"Liberation Sans", sans-serif' font-weight="bold" fill="#0d0d0d" textLength="24.16" lengthAdjust="spacingAndGlyphs" stroke="#0d0d0d" stroke-width="0.5" stroke-linejoin="round" paint-order="stroke">I2</text>
<text x="718.95" y="1383.60" font-size="26.200000000000003" font-family='"Liberation Sans", sans-serif' font-weight="bold" fill="#0d0d0d" textLength="24.68" lengthAdjust="spacingAndGlyphs" stroke="#0d0d0d" stroke-width="0.5" stroke-linejoin="round" paint-order="stroke">I3</text>
<line x1="130.8" y1="1484.1" x2="130.8" y2="1794.4" stroke="#1e1e1e" stroke-opacity="0.32" stroke-width="3.30" stroke-linecap="butt"/>
<line x1="130.8" y1="1484.1" x2="130.8" y2="1794.4" stroke="#1e1e1e" stroke-width="2.0" stroke-linecap="butt"/>
<line x1="118.4" y1="1794.4" x2="757.3" y2="1794.4" stroke="#1e1e1e" stroke-opacity="0.32" stroke-width="3.30" stroke-linecap="butt"/>
<line x1="118.4" y1="1794.4" x2="757.3" y2="1794.4" stroke="#1e1e1e" stroke-width="2.0" stroke-linecap="butt"/>
<line x1="118.4" y1="1485.2" x2="130.8" y2="1485.2" stroke="#1e1e1e" stroke-opacity="0.32" stroke-width="3.30" stroke-linecap="butt"/>
<line x1="118.4" y1="1485.2" x2="130.8" y2="1485.2" stroke="#1e1e1e" stroke-width="2.0" stroke-linecap="butt"/>
<text x="65.38" y="1495.60" font-size="31" font-family='"Liberation Serif", serif' font-weight="bold" fill="#0d0d0d" textLength="34.72" lengthAdjust="spacingAndGlyphs" stroke="#ffffff" stroke-width="0.35" stroke-linejoin="round">60</text>
<line x1="118.4" y1="1563.1" x2="130.8" y2="1563.1" stroke="#1e1e1e" stroke-opacity="0.32" stroke-width="3.30" stroke-linecap="butt"/>
<line x1="118.4" y1="1563.1" x2="130.8" y2="1563.1" stroke="#1e1e1e" stroke-width="2.0" stroke-linecap="butt"/>
<text x="66.98" y="1571.70" font-size="31" font-family='"Liberation Serif", serif' font-weight="bold" fill="#0d0d0d" textLength="33.06" lengthAdjust="spacingAndGlyphs" stroke="#ffffff" stroke-width="0.35" stroke-linejoin="round">50</text>
<line x1="118.4" y1="1639.2" x2="130.8" y2="1639.2" stroke="#1e1e1e" stroke-opacity="0.32" stroke-width="3.30" stroke-linecap="butt"/>
<line x1="118.4" y1="1639.2" x2="130.8" y2="1639.2" stroke="#1e1e1e" stroke-width="2.0" stroke-linecap="butt"/>
<text x="66.18" y="1649.60" font-size="31" font-family='"Liberation Serif", serif' font-weight="bold" fill="#0d0d0d" textLength="33.89" lengthAdjust="spacingAndGlyphs" stroke="#ffffff" stroke-width="0.35" stroke-linejoin="round">40</text>
<line x1="118.4" y1="1717.0" x2="130.8" y2="1717.0" stroke="#1e1e1e" stroke-opacity="0.32" stroke-width="3.30" stroke-linecap="butt"/>
<line x1="118.4" y1="1717.0" x2="130.8" y2="1717.0" stroke="#1e1e1e" stroke-width="2.0" stroke-linecap="butt"/>
<text x="67.06" y="1727.30" font-size="31" font-family='"Liberation Serif", serif' font-weight="bold" fill="#0d0d0d" textLength="32.97" lengthAdjust="spacingAndGlyphs" stroke="#ffffff" stroke-width="0.35" stroke-linejoin="round">30</text>
<text x="65.11" y="1805.50" font-size="31" font-family='"Liberation Serif", serif' font-weight="bold" fill="#0d0d0d" textLength="35.00" lengthAdjust="spacingAndGlyphs" stroke="#ffffff" stroke-width="0.35" stroke-linejoin="round">20</text>
<line x1="340.4" y1="1794.4" x2="340.4" y2="1806" stroke="#1e1e1e" stroke-opacity="0.32" stroke-width="3.30" stroke-linecap="butt"/>
<line x1="340.4" y1="1794.4" x2="340.4" y2="1806" stroke="#1e1e1e" stroke-width="2.0" stroke-linecap="butt"/>
<line x1="549.9" y1="1794.4" x2="549.9" y2="1806" stroke="#1e1e1e" stroke-opacity="0.32" stroke-width="3.30" stroke-linecap="butt"/>
<line x1="549.9" y1="1794.4" x2="549.9" y2="1806" stroke="#1e1e1e" stroke-width="2.0" stroke-linecap="butt"/>
<line x1="757.3" y1="1794.4" x2="757.3" y2="1806" stroke="#1e1e1e" stroke-opacity="0.32" stroke-width="3.30" stroke-linecap="butt"/>
<line x1="757.3" y1="1794.4" x2="757.3" y2="1806" stroke="#1e1e1e" stroke-width="2.0" stroke-linecap="butt"/>
<text x="50.00" y="1823.87" font-size="30.6" font-family='"Liberation Sans", sans-serif' font-weight="bold" fill="#0d0d0d" textLength="379.60" lengthAdjust="spacingAndGlyphs" transform="rotate(-90 50.00 1823.87)" stroke="#0d0d0d" stroke-opacity="0.30" stroke-width="0.8" stroke-linejoin="round" paint-order="stroke">post-pre&#160;mean&#160;difference</text>
<text x="174.10" y="1850.40" font-size="30" font-family='"Liberation Sans", sans-serif' font-weight="bold" fill="#0d0d0d" textLength="122.82" lengthAdjust="spacingAndGlyphs" stroke="#0d0d0d" stroke-opacity="0.30" stroke-width="0.8" stroke-linejoin="round" paint-order="stroke">Blended</text>
<text x="372.30" y="1850.40" font-size="30" font-family='"Liberation Sans", sans-serif' font-weight="bold" fill="#0d0d0d" textLength="146.81" lengthAdjust="spacingAndGlyphs" stroke="#0d0d0d" stroke-opacity="0.30" stroke-width="0.8" stroke-linejoin="round" paint-order="stroke">Pandemic</text>
<text x="605.54" y="1850.40" font-size="30" font-family='"Liberation Sans", sans-serif' font-weight="bold" fill="#0d0d0d" textLength="97.72" lengthAdjust="spacingAndGlyphs" stroke="#0d0d0d" stroke-opacity="0.30" stroke-width="0.8" stroke-linejoin="round" paint-order="stroke">Digital</text>
<polyline points="234.6,1525.0 444,1606.4 654.8,1578.9" fill="none" stroke="#3540cc" stroke-opacity="0.42" stroke-width="6.50" stroke-linejoin="round" stroke-linecap="round"/>
<polyline points="234.6,1525.0 444,1606.4 654.8,1578.9" fill="none" stroke="#3540cc" stroke-width="4.30" stroke-linejoin="round" stroke-linecap="round"/>
<polyline points="232.6,1594.3 441.2,1569.6 655.8,1686.9" fill="none" stroke="#ec0b14" stroke-opacity="0.42" stroke-width="7.40" stroke-linejoin="round" stroke-linecap="round"/>
<polyline points="232.6,1594.3 441.2,1569.6 655.8,1686.9" fill="none" stroke="#ec0b14" stroke-width="5.20" stroke-linejoin="round" stroke-linecap="round"/>
</svg>
</body>
</html>
